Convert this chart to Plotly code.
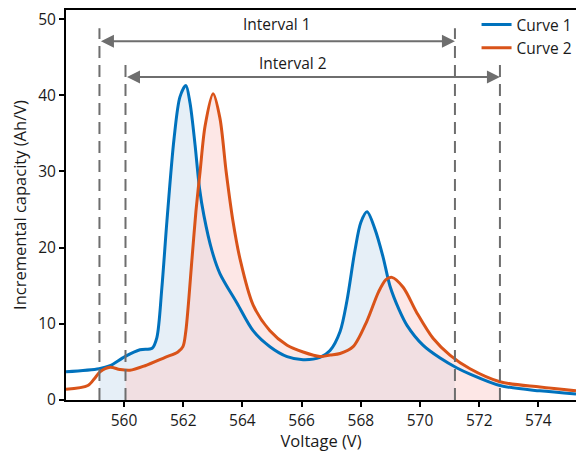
import numpy as np
import plotly.graph_objects as go

# ---- data ----
v1 = [558.04, 559.16, 559.53, 560.03, 560.54, 560.95, 561.11, 561.28, 561.45, 561.69,
      561.89, 562.09, 562.23, 562.40, 562.55, 562.70, 562.97, 563.24, 563.82, 564.36,
      564.93, 565.51, 566.05, 566.62, 566.96, 567.30, 567.53, 567.80, 568.00, 568.21,
      568.48, 568.75, 568.99, 569.30, 569.56, 570.10, 570.68, 571.25, 571.69, 572.70, 574.05, 575.27]
c1 = [3.7, 4.1, 4.5, 5.7, 6.6, 6.8, 8.2, 14.8, 23.5, 34.3,
      39.8, 41.3, 39.0, 33.5, 27.8, 24.2, 19.6, 16.6, 12.7, 9.1,
      7.0, 5.7, 5.3, 5.6, 6.5, 9.0, 13.0, 19.6, 23.3, 24.7,
      22.4, 18.8, 14.9, 11.8, 9.8, 7.2, 5.5, 4.2, 3.4, 1.9, 1.2, 0.8]

v2 = [558.04, 558.78, 559.02, 559.19, 559.53, 559.86, 560.20, 560.71, 561.39, 561.82,
      561.99, 562.09, 562.30, 562.43, 562.57, 562.74, 563.01, 563.24, 563.45, 563.68,
      563.92, 564.36, 564.93, 565.51, 566.05, 566.62, 566.96, 567.30, 567.74, 568.21,
      568.60, 568.85, 569.05, 569.43, 569.90, 570.44, 571.01, 571.69, 572.70, 574.05, 575.27]
c2 = [1.4, 1.9, 2.9, 3.7, 4.3, 4.0, 3.9, 4.5, 5.6, 6.3,
      7.0, 9.1, 18.7, 24.8, 30.0, 36.0, 40.2, 37.0, 30.0, 23.5,
      18.5, 12.5, 9.1, 7.2, 6.3, 5.7, 5.9, 6.1, 7.0, 10.4,
      14.2, 15.8, 16.1, 14.8, 11.4, 8.1, 5.9, 4.1, 2.4, 1.7, 1.2]

interval1 = [559.17, 571.18]
interval2 = [560.05, 572.70]
names = ["Curve 1", "Curve 2"]
interval_labels = ["Interval 1", "Interval 2"]

BLUE = "#0072BD"
RED = "#D95319"
GREY = "#6e6e6e"
FONT = "Open Sans"
TXT = "#1a1a1a"
SMOOTH = 0.85


def clip(v, c, lo, hi):
    v = np.asarray(v); c = np.asarray(c)
    m = (v > lo) & (v < hi)
    xs = np.concatenate([[lo], v[m], [hi]])
    ys = np.concatenate([[np.interp(lo, v, c)], c[m], [np.interp(hi, v, c)]])
    return xs, ys


fig = go.Figure()
fx1, fy1 = clip(v1, c1, *interval1)
fx2, fy2 = clip(v2, c2, *interval2)
fig.add_trace(go.Scatter(x=fx1, y=fy1, mode="lines", fill="tozeroy",
                         fillcolor="rgba(209,225,241,0.55)", line=dict(width=0, shape="spline", smoothing=SMOOTH),
                         showlegend=False, hoverinfo="skip"))
fig.add_trace(go.Scatter(x=fx2, y=fy2, mode="lines", fill="tozeroy",
                         fillcolor="rgba(251,207,205,0.5)", line=dict(width=0, shape="spline", smoothing=SMOOTH),
                         showlegend=False, hoverinfo="skip"))
fig.add_trace(go.Scatter(x=v1, y=c1, mode="lines", name=names[0],
                         line=dict(color=BLUE, width=3, shape="spline", smoothing=SMOOTH)))
fig.add_trace(go.Scatter(x=v2, y=c2, mode="lines", name=names[1],
                         line=dict(color=RED, width=3, shape="spline", smoothing=SMOOTH)))

# dashed interval boundaries
tops = [48.8, 44.1]
for (lo, hi), top in zip([interval1, interval2], tops):
    for xv in (lo, hi):
        fig.add_shape(type="line", x0=xv, x1=xv, y0=0, y1=top, xref="x", yref="y",
                      line=dict(color=GREY, width=2, dash="12px,7px"), layer="above")

# arrows and labels
arrow_y = [47.1, 42.4]
label_pos = [(565.17, 49.3), (565.71, 44.2)]
for (lo, hi), ay, (lx, ly), txt in zip([interval1, interval2], arrow_y, label_pos, interval_labels):
    fig.add_annotation(x=hi, y=ay, ax=lo, ay=ay, xref="x", yref="y", axref="x", ayref="y",
                       text="", showarrow=True, arrowhead=2, startarrowhead=2, arrowside="end+start",
                       arrowsize=1.3, startarrowsize=1.3, arrowwidth=2, arrowcolor=GREY, standoff=0, startstandoff=0)
    fig.add_annotation(x=lx, y=ly, xref="x", yref="y", text=txt, showarrow=False,
                       font=dict(family=FONT, size=15.5, color=TXT))

# page body has an 8px default margin: the figure is sized so that it fills the window
fig.update_layout(
    width=576, height=444,
    margin=dict(l=58, r=8, t=0, b=52),
    paper_bgcolor="white", plot_bgcolor="white",
    font=dict(family=FONT, size=15.5, color=TXT),
    legend=dict(x=0.805, y=1.006, xanchor="left", yanchor="top", bgcolor="rgba(0,0,0,0)",
                itemwidth=30, font=dict(family=FONT, size=15.5, color=TXT),
                tracegroupgap=0),
)
fig.update_xaxes(range=[558.04, 575.27], tickvals=[560, 562, 564, 566, 568, 570, 572, 574],
                 automargin=False, tickfont=dict(size=15.5), ticklabeloverflow="allow",
                 showgrid=False, zeroline=False, showline=True, linecolor="black", linewidth=2,
                 mirror=True, ticks="outside", ticklen=5, tickwidth=1.5, tickcolor="black",
                 title=dict(text="Voltage (V)", font=dict(family=FONT, size=16.5)))
fig.update_yaxes(range=[0, 51.2], tickvals=[0, 10, 20, 30, 40, 50],
                 automargin=False, tickfont=dict(size=15.5), ticklabeloverflow="allow",
                 showgrid=False, zeroline=False, showline=True, linecolor="black", linewidth=2,
                 mirror=True, ticks="outside", ticklen=5, tickwidth=1.5, tickcolor="black",
                 title=dict(text="Incremental capacity (Ah/V)", font=dict(family=FONT, size=16.5)))

fig.write_html("out.html")
